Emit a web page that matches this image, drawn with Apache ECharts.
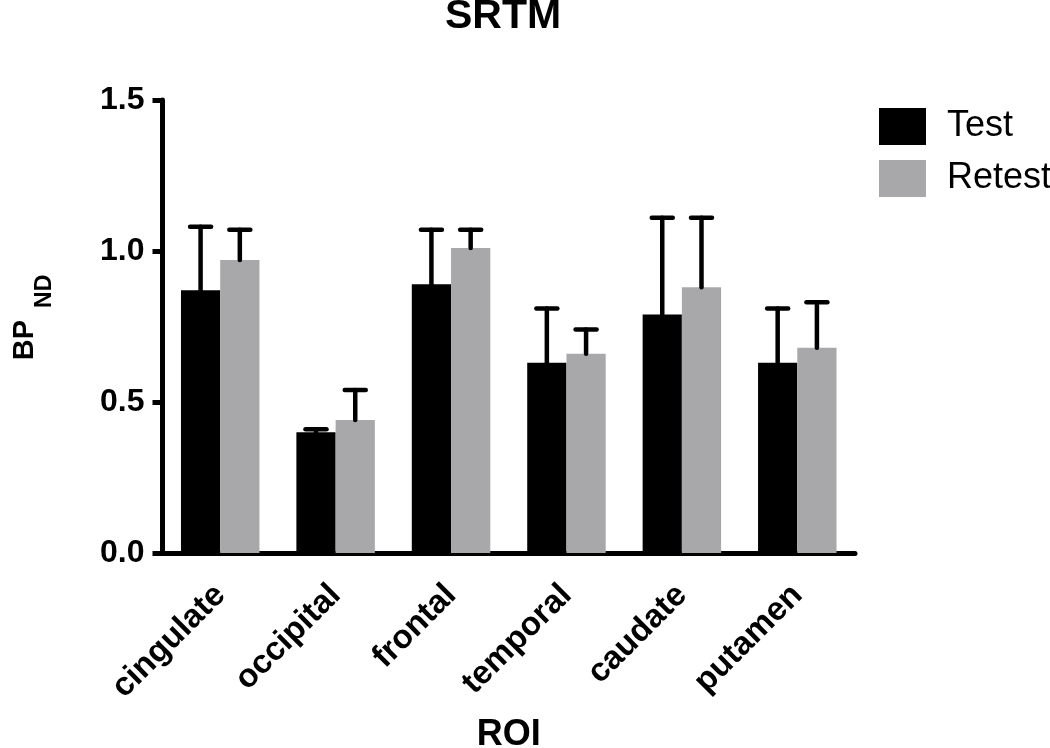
<!DOCTYPE html>
<html>
<head>
<meta charset="utf-8">
<script src="https://cdn.jsdelivr.net/npm/echarts@6/dist/echarts.min.js"></script>
<style>html,body{margin:0;padding:0;background:#fff}#c{width:1050px;height:748px}</style>
</head>
<body>
<div id="c"></div>
<script>
const categories = ['cingulate', 'occipital', 'frontal', 'temporal', 'caudate', 'putamen'];
const testMean   = [0.87, 0.40, 0.89, 0.63, 0.79, 0.63];
const testUpper  = [1.08, 0.41, 1.07, 0.81, 1.11, 0.81];
const retestMean = [0.97, 0.44, 1.01, 0.66, 0.88, 0.68];
const retestUpper= [1.07, 0.54, 1.07, 0.74, 1.11, 0.83];
const yTicks = [0.0, 0.5, 1.0, 1.5];

const FONT = '"Liberation Sans", Arial, sans-serif';
const BAR_FRAC = 0.34;

function errSeries(name, mean, upper, side) {
  return {
    type: 'custom',
    name: name,
    z: 5,
    silent: true,
    data: mean.map((m, i) => [i, m, upper[i]]),
    encode: { x: 0, y: [1, 2] },
    renderItem: function (params, api) {
      const i = api.value(0);
      const base = api.coord([i, api.value(1)]);
      const top = api.coord([i, api.value(2)]);
      const band = api.size([1, 0])[0];
      const x = base[0] + side * band * BAR_FRAC / 2;
      const capHalf = 10.5;
      const style = { stroke: '#000', lineWidth: 4.5, lineCap: 'round' };
      return {
        type: 'group',
        children: [
          { type: 'line', shape: { x1: x, y1: base[1], x2: x, y2: top[1] }, style: style },
          { type: 'line', shape: { x1: x - capHalf, y1: top[1], x2: x + capHalf, y2: top[1] }, style: style }
        ]
      };
    }
  };
}

const chart = echarts.init(document.getElementById('c'), null, { renderer: 'canvas' });
chart.setOption({
  animation: false,
  backgroundColor: '#fff',
  title: {
    text: 'SRTM',
    left: 503, textAlign: 'center',
    top: -4, padding: 0,
    textStyle: { fontFamily: FONT, fontWeight: 'bold', fontSize: 41, color: '#000' }
  },
  legend: {
    data: ['Test', 'Retest'],
    orient: 'vertical',
    left: 879, top: 108, padding: 0,
    itemWidth: 47, itemHeight: 37, itemGap: 15,
    icon: 'rect',
    textStyle: { fontFamily: FONT, fontSize: 36, color: '#000', padding: [0, 0, 0, 16] }
  },
  grid: { left: 162.5, right: 195, top: 100, bottom: 195, containLabel: false, outerBoundsMode: 'none' },
  xAxis: {
    type: 'category',
    data: categories,
    name: 'ROI',
    nameLocation: 'middle',
    nameGap: 164,
    nameTextStyle: { fontFamily: FONT, fontWeight: 'bold', fontSize: 36, color: '#000' },
    axisLine: { lineStyle: { color: '#000', width: 5 } },
    axisTick: { alignWithLabel: true, length: 12, lineStyle: { color: '#000', width: 5 } },
    axisLabel: {
      rotate: 45, margin: 37, interval: 0,
      fontFamily: FONT, fontWeight: 'bold', fontSize: 33, color: '#000'
    }
  },
  yAxis: {
    type: 'value',
    min: 0, max: 1.5, interval: 0.5,
    name: '{bp|BP}{nd|ND}',
    nameLocation: 'middle',
    nameRotate: 90,
    nameGap: 106,
    nameTextStyle: {
      rich: {
        bp: { fontFamily: FONT, fontWeight: 'bold', fontSize: 29, color: '#000', padding: [0, 0, 0, 18] },
        nd: { fontFamily: FONT, fontWeight: 'bold', fontSize: 23, color: '#000', padding: [40, 0, 0, 12] }
      }
    },
    axisLine: { show: true, lineStyle: { color: '#000', width: 5 } },
    axisTick: { show: true, length: 10, lineStyle: { color: '#000', width: 5 } },
    splitLine: { show: false },
    axisLabel: {
      margin: 18,
      fontFamily: FONT, fontWeight: 'bold', fontSize: 32, color: '#000',
      formatter: v => yTicks.includes(v) ? v.toFixed(1) : ''
    }
  },
  series: [
    { type: 'bar', name: 'Test', data: testMean, barWidth: (BAR_FRAC * 100) + '%', barGap: '0%',
      itemStyle: { color: '#000' } },
    { type: 'bar', name: 'Retest', data: retestMean, barWidth: (BAR_FRAC * 100) + '%', barGap: '0%',
      itemStyle: { color: '#a8a8aa' } },
    errSeries('TestErr', testMean, testUpper, -1),
    errSeries('RetestErr', retestMean, retestUpper, 1)
  ]
});
</script>
</body>
</html>
